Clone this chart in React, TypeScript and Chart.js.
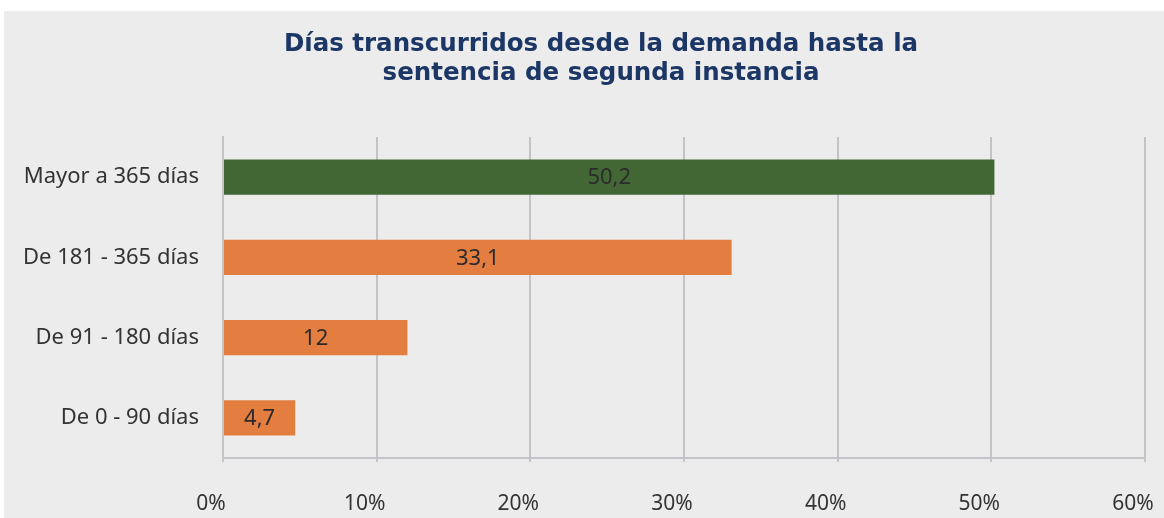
import React, { useEffect, useRef } from "react";
import { Chart, registerables } from "chart.js";

Chart.register(...registerables);

const categories = ["Mayor a 365 días", "De 181 - 365 días", "De 91 - 180 días", "De 0 - 90 días"];
const values = [50.2, 33.1, 12, 4.7];
const barColors = ["#426734", "#e37e40", "#e37e40", "#e37e40"];
const titleLines = ["Días transcurridos desde la demanda hasta la", "sentencia de segunda instancia"];
const xTicks = [0, 10, 20, 30, 40, 50, 60];

const FONT = "'Noto Sans', sans-serif";
const TITLE_FONT = "'DejaVu Sans', sans-serif";

const valueLabels = {
  id: "valueLabels",
  afterDatasetsDraw(chart: any) {
    const ctx = chart.ctx;
    const meta = chart.getDatasetMeta(0);
    ctx.save();
    ctx.font = `22px ${FONT}`;
    ctx.fillStyle = "#2b2b2b";
    ctx.textAlign = "center";
    ctx.textBaseline = "middle";
    meta.data.forEach((bar: any, i: number) => {
      const v = values[i];
      const txt = String(v).replace(".", ",");
      const x = (bar.x + bar.base) / 2;
      ctx.fillText(txt, x, bar.y + 1);
    });
    ctx.restore();
  },
};

const customTitle = {
  id: "customTitle",
  afterDraw(chart: any) {
    const ctx = chart.ctx;
    ctx.save();
    ctx.font = `bold 24.5px ${TITLE_FONT}`;
    ctx.fillStyle = "#1c3766";
    ctx.textAlign = "center";
    ctx.textBaseline = "middle";
    titleLines.forEach((line, i) => {
      ctx.fillText(line, 597, 34 + i * 29);
    });
    ctx.restore();
  },
};

export default function App() {
  const ref = useRef<HTMLCanvasElement | null>(null);
  useEffect(() => {
    if (!ref.current) return;
    const chart = new Chart(ref.current, {
      type: "bar",
      data: {
        labels: categories,
        datasets: [
          {
            data: values,
            backgroundColor: barColors,
            borderWidth: 0,
            barPercentage: 0.44,
            categoryPercentage: 1,
          },
        ],
      },
      options: {
        indexAxis: "y",
        animation: false,
        responsive: false,
        maintainAspectRatio: false,
        layout: { padding: { left: 0, right: 19, top: 126, bottom: 0 } },
        plugins: {
          legend: { display: false },
          tooltip: { enabled: false },
          title: { display: false },
        },
        scales: {
          x: {
            min: 0,
            max: 60,
            afterBuildTicks(scale: any) {
              scale.ticks = xTicks.map((v) => ({ value: v }));
            },
            ticks: {
              callback: (v: any) => `${v}%`,
              color: "#333333",
              font: { family: FONT, size: 21 },
              padding: 29,
              labelOffset: -12,
              maxRotation: 0,
            },
            grid: {
              color: "#c4c4c8",
              lineWidth: 2,
              tickLength: 4,
              drawTicks: true,
            },
            border: { display: true, color: "#c4c4c8", width: 2 },
            afterFit(scale: any) {
              scale.height = 60;
              scale.paddingLeft = 0;
              scale.paddingRight = 0;
            },
          },
          y: {
            ticks: {
              color: "#333333",
              font: { family: FONT, size: 22 },
              padding: 24,
            },
            grid: { display: false, drawTicks: false },
            border: { display: true, color: "#c4c4c8", width: 2 },
            afterFit(scale: any) {
              scale.width = 219;
              scale.paddingTop = 0;
              scale.paddingBottom = 0;
            },
          },
        },
      },
      plugins: [valueLabels, customTitle],
    });
    return () => chart.destroy();
  }, []);

  return (
    <div
      style={{
        position: "absolute",
        left: 4,
        top: 11,
        width: 1160,
        height: 507,
        background: "#ececec",
      }}
    >
      <canvas ref={ref} width={1160} height={507} style={{ display: "block" }} />
    </div>
  );
}
